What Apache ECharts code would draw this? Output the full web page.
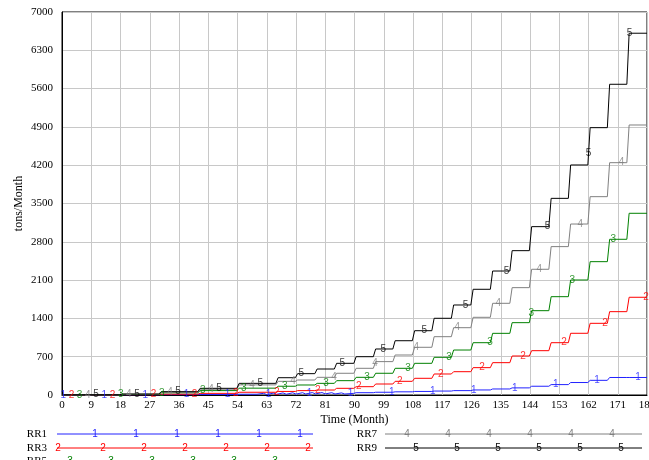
<!DOCTYPE html>
<html><head><meta charset="utf-8">
<script src="https://cdn.jsdelivr.net/npm/echarts@6/dist/echarts.min.js"></script>
<style>html,body{margin:0;padding:0;background:#fff;overflow:hidden}#c{width:649px;height:460px}</style>
</head><body><div id="c"></div>
<script>
// Months at which each staircase rises
const stepTimes = [18,30,42,54,66,72,78,84,90,96,102,108,114,120,126,132,138,144,150,156,162,168,174];
// Level before first step, then after each step (tons/Month)
const rr1 = [0,3,6,10,14,16,18,18,30,42,50,58,65,72,80,92,110,130,160,190,228,268,320,320].slice(0,24);
const rr3 = [1,5,15,30,50,65,80,91,122,152,201,250,305,384,426,500,591,713,810,956,1128,1310,1523,1786];
const rr5 = [2,10,40,80,125,160,183,213,262,323,397,488,579,689,822,956,1127,1322,1541,1797,2102,2437,2846,3321];
const rr7 = [3,15,50,105,185,250,274,323,397,488,610,731,872,1066,1230,1420,1676,1962,2298,2712,3125,3625,4246,4935];
const rr9 = [5,18,61,122,213,316,390,475,579,700,841,992,1175,1402,1645,1932,2266,2638,3077,3594,4204,4886,5679,6612];
// RR1 jitter section (month, value)
const rr1Wiggle = [[60,14],[62,30],[63,8],[65,34],[66,12],[68,38],[69,14],[71,40],[72,16],[74,42],[75,18],[77,44],[78,20],[80,44],[81,20],[83,42],[84,18],[86,38],[87,18]];

const seriesNames = ['RR1','RR3','RR5','RR7','RR9'];
const seriesDigits = ['1','2','3','4','5'];
const seriesColors = ['#2222ff','#ff0000','#008000','#808080','#000000'];
const levelSets = [rr1, rr3, rr5, rr7, rr9];

const RAMP_BEFORE = 0.2, RAMP_AFTER = 0.5;
function stepPoints(levels){
  const pts = [[0, levels[0]]];
  stepTimes.forEach((t,i)=>{ pts.push([t-RAMP_BEFORE, levels[i]]); pts.push([t+RAMP_AFTER, levels[i+1]]); });
  pts.push([180, levels[levels.length-1]]);
  return pts;
}
function valueAt(pts, t){
  for (let i=1;i<pts.length;i++){
    if (t<=pts[i][0]){
      const a=pts[i-1], b=pts[i];
      if (b[0]===a[0]) return b[1];
      return a[1]+(b[1]-a[1])*(t-a[0])/(b[0]-a[0]);
    }
  }
  return pts[pts.length-1][1];
}

const lineData = levelSets.map(stepPoints);
lineData[0] = lineData[0].filter(p=>p[0]<60||p[0]>87).concat(rr1Wiggle).sort((a,b)=>a[0]-b[0]);

const series = [];
const MARK_GAP = 12.63, MARK_SHIFT = 2.515, MARK_START = 0.4;
lineData.forEach((pts,s)=>{
  series.push({type:'line', name:seriesNames[s], data:pts, showSymbol:false, symbol:'none',
    lineStyle:{color:seriesColors[s], width:1}, itemStyle:{color:seriesColors[s]}, z:2+s, animation:false});
  const marks=[];
  for (let t=MARK_START+MARK_SHIFT*s; t<=180; t+=MARK_GAP) marks.push([t, valueAt(pts,t)]);
  series.push({type:'scatter', data:marks, symbol:'circle', symbolSize:1, itemStyle:{color:'rgba(0,0,0,0)'},
    label:{show:true, position:'inside', formatter:seriesDigits[s], color:seriesColors[s], fontSize:10, fontFamily:'Liberation Sans'},
    z:10, animation:false, silent:true});
});

const legendRows = [
  {s:0, tx:47, lx1:57, lx2:313, y:434, m0:95},
  {s:1, tx:47, lx1:57, lx2:313, y:448, m0:58},
  {s:2, tx:47, lx1:57, lx2:313, y:461, m0:70},
  {s:3, tx:377, lx1:385, lx2:642, y:434, m0:407},
  {s:4, tx:377, lx1:385, lx2:642, y:448, m0:416}
];
const graphic = [];
legendRows.forEach(r=>{
  const c = seriesColors[r.s];
  graphic.push({type:'text', x:r.tx, y:r.y, style:{text:seriesNames[r.s], x:0, y:0, fill:'#000', font:'11px "Liberation Serif"', textAlign:'right', textVerticalAlign:'middle'}});
  graphic.push({type:'line', shape:{x1:r.lx1, y1:r.y, x2:r.lx2, y2:r.y}, style:{stroke:c, lineWidth:1}});
  const ms = r.s===1 ? [58,103,144,185,226,267,308] : [0,1,2,3,4,5].map(k=>r.m0+41*k);
  ms.forEach(mx=>graphic.push({type:'text', x:mx, y:r.y, style:{text:seriesDigits[r.s], x:0, y:0, fill:c, font:'10px "Liberation Sans"', textAlign:'center', textVerticalAlign:'middle'}}));
});

const chart = echarts.init(document.getElementById('c'), null, {renderer:'canvas'});
chart.setOption({
  animation:false,
  backgroundColor:'#fff',
  grid:{left:62, right:2, top:12, bottom:65, show:true, borderColor:'#000', borderWidth:1, containLabel:false, outerBoundsMode:'none'},
  xAxis:{type:'value', min:0, max:180, interval:9, name:'Time (Month)', nameLocation:'middle', nameGap:19, nameMoveOverlap:false,
    nameTextStyle:{fontFamily:'Liberation Serif', fontSize:12, color:'#000'},
    axisLine:{show:true, lineStyle:{color:'#000', width:1}}, axisTick:{show:false},
    axisLabel:{fontFamily:'Liberation Serif', fontSize:11, color:'#000', margin:5, showMaxLabel:true, formatter:v=>String(v)},
    splitLine:{show:true, lineStyle:{color:'#c8c8c8', width:1}}},
  yAxis:{type:'value', min:0, max:7000, interval:700, name:'tons/Month', nameLocation:'middle', nameGap:37, nameRotate:90, nameMoveOverlap:false,
    nameTextStyle:{fontFamily:'Liberation Serif', fontSize:12, color:'#000'},
    axisLine:{show:true, lineStyle:{color:'#000', width:1}}, axisTick:{show:false},
    axisLabel:{fontFamily:'Liberation Serif', fontSize:11, color:'#000', margin:9, formatter:v=>String(v)},
    splitLine:{show:true, lineStyle:{color:'#c8c8c8', width:1}}},
  series: series,
  graphic: graphic
});
</script></body></html>
